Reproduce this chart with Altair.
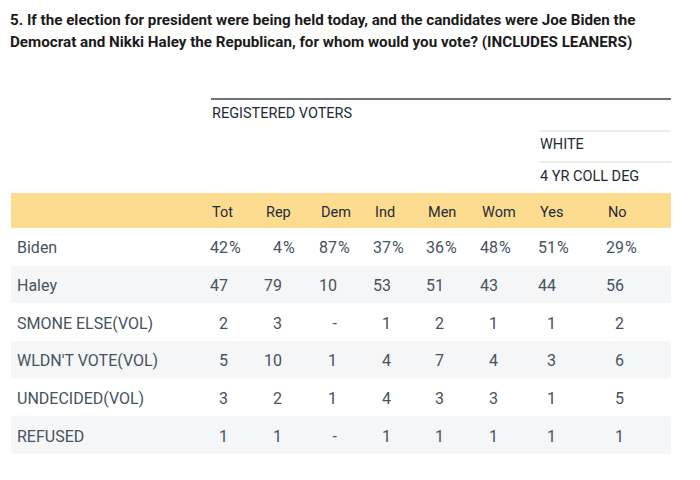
import json
import altair as alt
import pandas as pd

title_lines = [
    "5. If the election for president were being held today, and the candidates were Joe Biden the",
    "Democrat and Nikki Haley the Republican, for whom would you vote? (INCLUDES LEANERS)",
]
columns = ["Tot", "Rep", "Dem", "Ind", "Men", "Wom", "Yes", "No"]
rows = ["Biden", "Haley", "SMONE ELSE(VOL)", "WLDN'T VOTE(VOL)", "UNDECIDED(VOL)", "REFUSED"]
values = [
    ["42", "4", "87", "37", "36", "48", "51", "29"],
    ["47", "79", "10", "53", "51", "43", "44", "56"],
    ["2", "3", "-", "1", "2", "1", "1", "2"],
    ["5", "10", "1", "4", "7", "4", "3", "6"],
    ["3", "2", "1", "4", "3", "3", "1", "5"],
    ["1", "1", "-", "1", "1", "1", "1", "1"],
]
pct_rows = ["Biden"]
group_labels = [("REGISTERED VOTERS", "Tot", 0), ("WHITE", "Yes", 1), ("4 YR COLL DEG", "Yes", 2)]

BODY_FONT = "Roboto"
HEAD_FONT = "Roboto"
BODY_COLOR = "#46525e"
HEAD_COLOR = "#1e2a38"

cells = pd.DataFrame(
    [
        {"row": r, "col": c, "val": values[i][j], "pct": "%" if (r in pct_rows and values[i][j] != "-") else ""}
        for i, r in enumerate(rows)
        for j, c in enumerate(columns)
    ]
)
row_df = pd.DataFrame({"row": rows, "shade": ["w" if i % 2 == 0 else "g" for i in range(len(rows))]})
head_df = pd.DataFrame({"col": columns})
grp_df = pd.DataFrame({"label": [g[0] for g in group_labels], "col": [g[1] for g in group_labels],
                       "level": [g[2] for g in group_labels]})

col_index_expr = f"indexof({json.dumps(columns)}, datum.col)"
# piecewise-linear column scale (Yes/No columns are wider than the others)
xscale = alt.Scale(domain=list(range(len(columns))), range=[218, 272, 327, 381, 434, 488, 546, 614])
yscale = alt.Scale(type="band", domain=rows, range=[140, 366], paddingInner=0, paddingOuter=0)
X = alt.X("ci:Q", scale=xscale, axis=None)
Y = alt.Y("row:N", scale=yscale, axis=None)

bands = alt.Chart(row_df).mark_rect(stroke=None).encode(
    y=Y,
    x=alt.value(1),
    x2=alt.value(661),
    color=alt.Color("shade:N", scale=alt.Scale(domain=["w", "g"], range=["#ffffff", "#f4f6f8"]), legend=None),
)

yellow = alt.Chart(head_df).mark_rect(color="#fddb8f").encode(
    x=alt.value(1), x2=alt.value(661), y=alt.value(105), y2=alt.value(140)
)

head_text = alt.Chart(head_df).transform_calculate(ci=col_index_expr).mark_text(
    align="left", baseline="middle", dx=-16, dy=1.5, font=HEAD_FONT, fontSize=14.5, color=HEAD_COLOR
).encode(x=X, y=alt.value(123), text="col:N")

row_labels = alt.Chart(row_df).mark_text(
    align="left", baseline="middle", dy=1.5, font=BODY_FONT, fontSize=16, color=BODY_COLOR
).encode(y=Y, x=alt.value(7), text="row:N")

nums = alt.Chart(cells).transform_calculate(ci=col_index_expr).mark_text(
    align="right", baseline="middle", dy=1.5, font=BODY_FONT, fontSize=16, color=BODY_COLOR
).encode(x=X, y=Y, text="val:N")

pcts = alt.Chart(cells).transform_calculate(ci=col_index_expr).mark_text(
    align="left", baseline="middle", dy=1.5, font=BODY_FONT, fontSize=16, color=BODY_COLOR, dx=1
).encode(x=X, y=Y, text="pct:N")

top_rule = alt.Chart(head_df).mark_rule(color="#6e7378", strokeWidth=1.5).encode(
    x=alt.value(201), x2=alt.value(661), y=alt.value(11)
)
sub_rules = alt.Chart(pd.DataFrame({"lv": [43, 74]})).mark_rule(color="#d3d7db", strokeWidth=1).encode(
    x=alt.value(529), x2=alt.value(661), y=alt.Y("lv:Q", scale=None)
)

grp_text = alt.Chart(grp_df).transform_calculate(ci=col_index_expr).mark_text(
    align="left", baseline="middle", dx=-16, dy=1.5, font=HEAD_FONT, fontSize=14.5, color=HEAD_COLOR
).encode(
    x=X,
    y=alt.Y("level:O", scale=alt.Scale(type="point", domain=[0, 1, 2], range=[24, 87], padding=0), axis=None),
    text="label:N",
)

chart = alt.layer(
    yellow, bands, top_rule, sub_rules, grp_text, head_text, row_labels, nums, pcts
).resolve_scale(color="independent", y="independent").properties(
    width=680,
    height=380,
    padding={"left": 2, "top": 80, "right": 0, "bottom": 0},
    autosize=alt.AutoSizeParams(type="none"),
    title=alt.Title(
        text=title_lines,
        anchor="start",
        frame="group",
        font="Roboto",
        fontSize=15.2,
        fontWeight="bold",
        color="#1b1b1b",
        lineHeight=22,
        offset=38,
    ),
).configure_view(stroke=None)

chart.save("out.html", embed_options={"renderer": "svg", "actions": False})
